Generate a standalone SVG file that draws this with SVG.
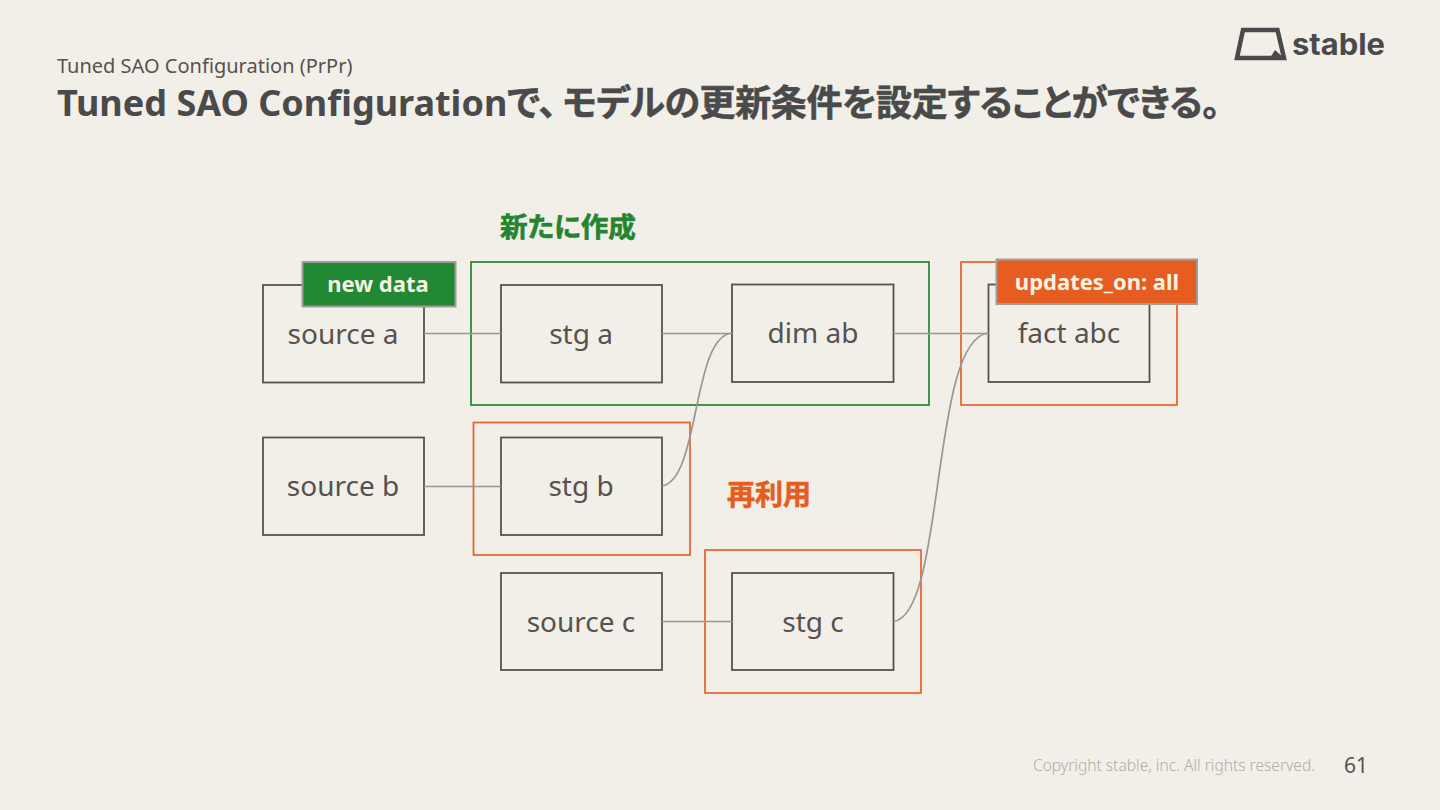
<svg xmlns="http://www.w3.org/2000/svg" width="1440" height="810" viewBox="0 0 1440 810">
<style>
text{font-family:"Noto Sans","Noto Sans CJK JP",sans-serif;fill:#4a4a4a}
.n{fill:#f2efe9;stroke:#55524f;stroke-width:1.8}
.t{font-size:28px;text-anchor:middle;fill:#55524f}
.c{fill:none;stroke:#999693;stroke-width:1.7}
.g{fill:none;stroke:#24842f;stroke-width:1.7}
.o{fill:none;stroke:#e5622a;stroke-width:1.7}
.b{stroke:#a09d98;stroke-width:2}
.l{font-size:22px;font-weight:700;fill:#f5f2e0;text-anchor:middle}
.j{font-weight:700;stroke-width:.6}
.p{font-feature-settings:"palt"}
</style>
<rect width="1440" height="810" fill="#f2efe9"/>
<text x="57" y="73" font-size="20" style="fill:#55524f">Tuned SAO Configuration (PrPr)</text>
<text x="57" y="116" font-size="36" font-weight="700">Tuned SAO Configuration<tspan class="j p" stroke="#4a4a4a">で、<tspan dx="6" letter-spacing="-0.400">モデルの更新条件を設定することができる。</tspan></tspan></text>
<g id="logo">
<path d="M1243 30H1277.500L1284 58H1237Z" fill="none" stroke="#4a4a4a" stroke-width="4.500"/>
<path d="M1275 50L1284 58H1270Z" fill="#4a4a4a"/>
<text x="1292" y="55" font-size="30" font-weight="700" style="font-family:Inter,sans-serif" textLength="93" lengthAdjust="spacingAndGlyphs">stable</text>
</g>
<g id="groups">
<rect class="g" x="471" y="262" width="458" height="143"/>
<rect class="o" x="961" y="262" width="216" height="143"/>
<rect class="o" x="473.500" y="422.500" width="216.500" height="132.500"/>
<rect class="o" x="705" y="550" width="216" height="143"/>
</g>
<g id="source-a"><rect class="n" x="263" y="285" width="161" height="97.500"/><text class="t" x="343" y="344">source a</text></g>
<g id="source-b"><rect class="n" x="263" y="437.500" width="161" height="97.500"/><text class="t" x="343" y="496">source b</text></g>
<g id="source-c"><rect class="n" x="501" y="573" width="161" height="97"/><text class="t" x="581" y="632">source c</text></g>
<g id="stg-a"><rect class="n" x="501" y="285" width="161" height="97.500"/><text class="t" x="581" y="344">stg a</text></g>
<g id="stg-b"><rect class="n" x="501" y="437.500" width="161" height="97.500"/><text class="t" x="581" y="496">stg b</text></g>
<g id="stg-c"><rect class="n" x="732" y="573" width="161.500" height="97"/><text class="t" x="813" y="632">stg c</text></g>
<g id="dim-ab"><rect class="n" x="732" y="284.500" width="161.500" height="97.500"/><text class="t" x="813" y="343">dim ab</text></g>
<g id="fact-abc"><rect class="n" x="988.500" y="284.500" width="161" height="97.500"/><text class="t" x="1069" y="343">fact abc</text></g>
<g id="connectors">
<path class="c" d="M424 333.500H501"/>
<path class="c" d="M424 486.500H501"/>
<path class="c" d="M662 621.500H732"/>
<path class="c" d="M662 333.500H732"/>
<path class="c" d="M893.500 333.500H988.500"/>
<path class="c" d="M662 486C700 480 692 336 732 333"/>
<path class="c" d="M893.500 621.500C946 615 930 338 988.500 333"/>
</g>
<g id="new-data"><rect class="b" x="302.500" y="262" width="153" height="44.500" fill="#218833"/><text class="l" x="378" y="292">new data</text></g>
<g id="updates-on"><rect class="b" x="996.500" y="259.500" width="200.500" height="44.500" fill="#e55d21"/><text class="l" x="1097" y="290">updates_on: all</text></g>
<text class="j p" x="500" y="237" font-size="27.600" style="fill:#24842f" stroke="#24842f">新たに作成</text>
<text class="j" x="727" y="505" font-size="28" style="fill:#e55d21" stroke="#e55d21">再利用</text>
<text x="1033" y="771" font-size="15.500" style="fill:#b0ada8;font-weight:300" textLength="282" lengthAdjust="spacingAndGlyphs">Copyright stable, inc. All rights reserved.</text>
<text x="1344" y="773" font-size="21" style="fill:#55524f">61</text>
</svg>
